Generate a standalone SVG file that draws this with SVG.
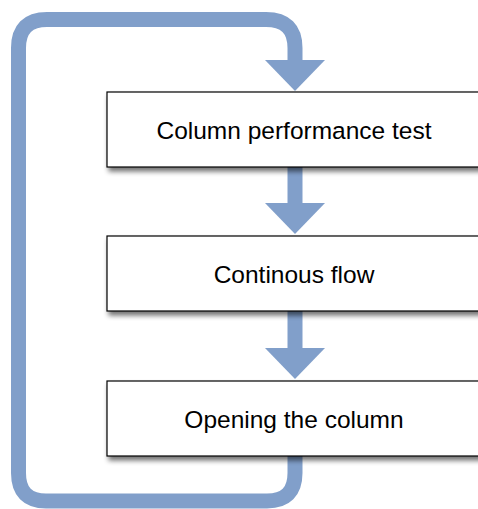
<svg xmlns="http://www.w3.org/2000/svg" width="478" height="509" viewBox="0 0 478 509">
<defs>
<style>
.flow{fill:none;stroke:#819FCA;stroke-width:15}
.head{fill:#819FCA}
.box{fill:#ffffff;stroke:#000000;stroke-width:1.2;filter:url(#sh)}
.lbl{font-family:"Liberation Sans",Arial,sans-serif;font-size:24.5px;fill:#000000;text-anchor:middle}
</style>
<filter id="sh" x="-10%" y="-20%" width="120%" height="150%">
<feGaussianBlur in="SourceAlpha" stdDeviation="2.5"/>
<feOffset dx="2" dy="4" result="b"/>
<feComponentTransfer><feFuncA type="linear" slope="0.55"/></feComponentTransfer>
<feMerge><feMergeNode/><feMergeNode in="SourceGraphic"/></feMerge>
</filter>
</defs>
<rect width="478" height="509" fill="#ffffff"/>
<g id="connectors">
<path class="flow" d="M295,456 V473 Q295,501 267,501 H46 Q18.5,501 18.5,473 V48 Q18.5,19.5 47,19.5 H266 Q295,19.5 295,48 V62"/>
<polygon class="head" points="265,60 325,60 295,91"/>
<path class="flow" d="M295,167 V205"/>
<polygon class="head" points="265,203 325,203 295,234"/>
<path class="flow" d="M295,311 V350"/>
<polygon class="head" points="265,348 325,348 295,379"/>
</g>
<g id="node-test">
<rect class="box" x="107" y="92" width="374" height="75"/>
<text class="lbl" x="294" y="138.5">Column performance test</text>
</g>
<g id="node-flow">
<rect class="box" x="107" y="236" width="374" height="75"/>
<text class="lbl" x="294" y="282.5">Continous flow</text>
</g>
<g id="node-open">
<rect class="box" x="107" y="381" width="374" height="75"/>
<text class="lbl" x="294" y="427.5">Opening the column</text>
</g>
</svg>
